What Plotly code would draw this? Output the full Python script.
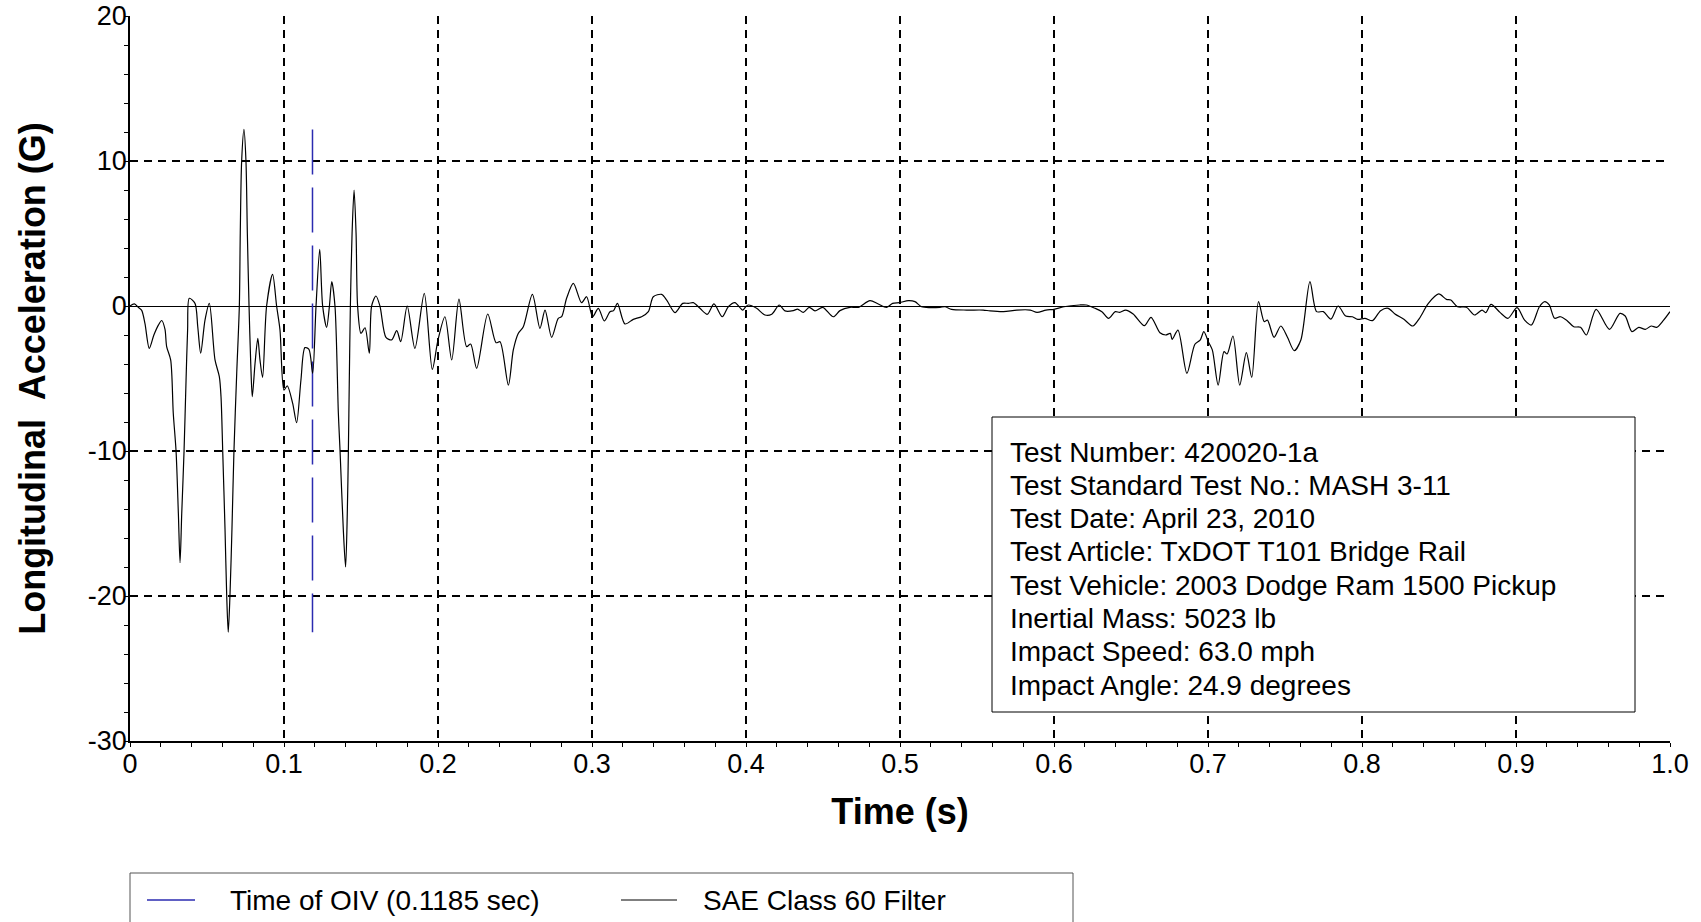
import plotly.graph_objects as go

# Longitudinal acceleration trace, SAE Class 60 filtered (time in s, acceleration in G)
time_s = [
    0.0, 0.0028, 0.0055, 0.0076, 0.0097, 0.0125, 0.0155, 0.0185, 0.0206, 0.0227,
    0.0238, 0.0264, 0.0281, 0.0299, 0.0314, 0.0325, 0.0336, 0.0351, 0.0364, 0.0374,
    0.0385, 0.0422, 0.0440, 0.0459, 0.0487, 0.0515, 0.0552, 0.0580, 0.0591, 0.0602,
    0.0617, 0.0628, 0.0638, 0.0649, 0.0662, 0.0675, 0.0693, 0.0710, 0.0716, 0.0725,
    0.0740, 0.0753, 0.0762, 0.0773, 0.0784, 0.0794, 0.0812, 0.0830, 0.0844, 0.0861,
    0.0887, 0.0926, 0.0952, 0.0974, 0.1000, 0.1021, 0.1056, 0.1082, 0.1110, 0.1136,
    0.1162, 0.1186, 0.1208, 0.1232, 0.1251, 0.1277, 0.1295, 0.1310, 0.1331, 0.1353,
    0.1364, 0.1385, 0.1400, 0.1411, 0.1418, 0.1424, 0.1431, 0.1442, 0.1455, 0.1468,
    0.1478, 0.1500, 0.1526, 0.1554, 0.1569, 0.1597, 0.1623, 0.1662, 0.1699, 0.1732,
    0.1758, 0.1800, 0.1850, 0.1911, 0.1963, 0.2000, 0.2045, 0.2089, 0.2136, 0.2186,
    0.2212, 0.2251, 0.2323, 0.2377, 0.2403, 0.2457, 0.2489, 0.2521, 0.2554, 0.2613,
    0.2662, 0.2695, 0.2738, 0.2781, 0.2803, 0.2835, 0.2879, 0.2932, 0.2965, 0.3004,
    0.3041, 0.3080, 0.3117, 0.3140, 0.3165, 0.3214, 0.3268, 0.3322, 0.3366, 0.3398,
    0.3452, 0.3485, 0.3539, 0.3589, 0.3626, 0.3658, 0.3701, 0.3749, 0.3792, 0.3846,
    0.3885, 0.3928, 0.3978, 0.3998, 0.4015, 0.4069, 0.4123, 0.4167, 0.4216, 0.4253,
    0.4307, 0.4335, 0.4372, 0.4411, 0.4448, 0.4498, 0.4567, 0.4610, 0.4675, 0.4729,
    0.4805, 0.4859, 0.4913, 0.4952, 0.4998, 0.5054, 0.5097, 0.5140, 0.5195, 0.5260,
    0.5292, 0.5335, 0.5433, 0.5540, 0.5585, 0.5672, 0.5759, 0.5846, 0.5890, 0.5948,
    0.6000, 0.6064, 0.6166, 0.6209, 0.6267, 0.6311, 0.6354, 0.6398, 0.6427, 0.6465,
    0.6514, 0.6587, 0.6630, 0.6688, 0.6726, 0.6755, 0.6767, 0.6805, 0.6863, 0.6915,
    0.6950, 0.6973, 0.7002, 0.7028, 0.7066, 0.7104, 0.7124, 0.7162, 0.7206, 0.7249,
    0.7284, 0.7328, 0.7365, 0.7386, 0.7429, 0.7473, 0.7516, 0.7560, 0.7603, 0.7662,
    0.7705, 0.7749, 0.7798, 0.7845, 0.7894, 0.7938, 0.7972, 0.8019, 0.8068, 0.8121,
    0.8170, 0.8214, 0.8272, 0.8330, 0.8373, 0.8431, 0.8498, 0.8548, 0.8577, 0.8620,
    0.8678, 0.8731, 0.8780, 0.8803, 0.8838, 0.8896, 0.8948, 0.9007, 0.9056, 0.9100,
    0.9152, 0.9187, 0.9216, 0.9251, 0.9288, 0.9332, 0.9375, 0.9419, 0.9457, 0.9520,
    0.9607, 0.9675, 0.9709, 0.9753, 0.9797, 0.9840, 0.9878, 0.9913, 0.9956, 1.0000,
]
accel_g = [
    0.0, 0.14, -0.1, -0.3, -1.2, -2.92, -2.0, -1.3, -1.0, -1.6,
    -2.8, -3.72, -7.4, -10.0, -14.3, -17.7, -14.3, -10.0, -5.1, -1.66,
    0.53, 0.18, -1.43, -3.26, -0.97, 0.18, -3.72, -4.87, -6.25, -10.0,
    -15.4, -20.0, -22.5, -20.0, -15.4, -10.0, -4.64, 0.0, 5.0, 10.0,
    12.18, 10.0, 5.0, 0.0, -3.95, -6.25, -3.95, -2.23, -3.72, -4.92,
    0.0, 2.18, 0.0, -1.66, -5.8, -5.5, -6.7, -8.05, -5.1, -2.87,
    -2.99, -4.64, 0.0, 3.9, 0.0, -1.47, 0.0, 1.68, 0.0, -7.4,
    -10.0, -15.4, -18.0, -14.3, -10.0, -5.1, 0.0, 5.0, 8.0, 5.0,
    0.0, -1.89, -1.5, -3.26, 0.0, 0.69, 0.0, -2.16, -2.34, -1.7,
    -2.46, 0.0, -2.92, 0.87, -4.37, -2.34, -0.74, -3.72, 0.48, -2.8,
    -2.62, -4.3, -0.55, -2.53, -2.46, -5.45, -3.03, -1.89, -1.43, 0.8,
    -1.54, -0.28, -2.16, -0.85, -0.74, 0.53, 1.56, 0.23, 0.64, -0.74,
    -0.16, -1.03, -0.39, -0.32, 0.18, -1.24, -0.92, -0.74, -0.39, 0.64,
    0.8, 0.41, -0.46, 0.18, 0.18, 0.23, -0.16, -0.57, 0.14, -0.74,
    -0.05, 0.23, -0.28, -0.05, 0.07, -0.16, -0.62, -0.57, 0.07, -0.34,
    -0.32, -0.21, -0.44, -0.09, -0.34, -0.09, -0.74, -0.32, -0.09, -0.09,
    0.37, 0.14, -0.09, 0.18, 0.23, 0.37, 0.3, -0.05, -0.11, -0.09,
    -0.05, -0.23, -0.28, -0.28, -0.34, -0.39, -0.28, -0.28, -0.44, -0.28,
    -0.23, -0.05, 0.07, 0.07, -0.16, -0.39, -0.85, -0.39, -0.44, -0.28,
    -0.55, -1.36, -0.78, -1.84, -2.0, -1.89, -2.3, -1.66, -4.64, -2.64,
    -2.34, -1.77, -2.46, -3.03, -5.45, -3.15, -3.31, -2.07, -5.45, -3.22,
    -4.92, 0.3, -1.08, -0.97, -2.16, -1.38, -2.16, -3.08, -2.34, 1.68,
    -0.39, -0.39, -0.9, 0.0, -0.69, -0.74, -0.92, -0.85, -1.01, -0.32,
    -0.16, -0.55, -0.92, -1.38, -0.85, 0.18, 0.83, 0.46, 0.41, -0.05,
    -0.09, -0.62, -0.28, -0.46, 0.11, -0.44, -0.85, -0.11, -0.97, -1.31,
    -0.05, 0.3, 0.07, -0.85, -0.74, -1.01, -1.43, -1.47, -2.0, -0.23,
    -1.61, -0.51, -0.69, -1.77, -1.47, -1.61, -1.38, -1.47, -1.01, -0.39,
]

# Occupant impact velocity time
oiv_time_s = 0.1185

series_names = ["Time of OIV (0.1185 sec)", "SAE Class 60 Filter"]

x_tick_vals = [0, 0.1, 0.2, 0.3, 0.4, 0.5, 0.6, 0.7, 0.8, 0.9, 1.0]
x_tick_text = ["0", "0.1", "0.2", "0.3", "0.4", "0.5", "0.6", "0.7", "0.8", "0.9", "1.0"]
y_tick_vals = [-30, -20, -10, 0, 10, 20]
y_tick_text = ["-30", "-20", "-10", "0", "10", "20"]

info_lines = [
    "Test Number: 420020-1a",
    "Test Standard Test No.: MASH 3-11",
    "Test Date: April 23, 2010",
    "Test Article: TxDOT T101 Bridge Rail",
    "Test Vehicle: 2003 Dodge Ram 1500 Pickup",
    "Inertial Mass: 5023 lb",
    "Impact Speed: 63.0 mph",
    "Impact Angle: 24.9 degrees",
]

FONT = "Liberation Sans, Arial, sans-serif"
BLUE = "#2b2bb0"
TEXT_SIZE = 28

W, H = 1701, 922
M_L, M_R, M_T, M_B = 130, 31, 16, 181
plot_w = W - M_L - M_R
plot_h = H - M_T - M_B


def px_to_paper_x(px):
    return (px - M_L) / plot_w


def px_to_paper_y(py):
    return (H - M_B - py) / plot_h


fig = go.Figure()

# OIV marker spans the full excursion of the filtered signal
fig.add_trace(go.Scatter(
    x=[oiv_time_s, oiv_time_s],
    y=[max(accel_g), min(accel_g)],
    mode="lines",
    name=series_names[0],
    line=dict(color=BLUE, width=1.5, dash="45px,13px"),
    hoverinfo="skip",
    showlegend=False,
))

fig.add_trace(go.Scatter(
    x=time_s,
    y=accel_g,
    mode="lines",
    name=series_names[1],
    line=dict(color="black", width=1.2, shape="spline", smoothing=0.8),
    showlegend=False,
))

# Test information box
box_left, box_right, box_top, box_bottom = 992, 1635, 417, 712
fig.add_shape(
    type="rect", xref="paper", yref="paper",
    x0=px_to_paper_x(box_left), x1=px_to_paper_x(box_right),
    y0=px_to_paper_y(box_bottom), y1=px_to_paper_y(box_top),
    line=dict(color="black", width=1), fillcolor="white", layer="above",
)
first_line_y, line_step = 452.0, 33.3
for i, txt in enumerate(info_lines):
    fig.add_annotation(
        xref="paper", yref="paper",
        x=px_to_paper_x(1008), y=px_to_paper_y(first_line_y + i * line_step),
        xanchor="left", yanchor="middle",
        text=txt, showarrow=False,
        font=dict(family=FONT, size=TEXT_SIZE, color="black"),
    )

# Key below the plot: framed row with a line sample and label per series
key_left, key_right, key_top, key_bottom = 130, 1073, 873, 940
key_row_y = 900
fig.add_shape(
    type="rect", xref="paper", yref="paper",
    x0=px_to_paper_x(key_left), x1=px_to_paper_x(key_right),
    y0=px_to_paper_y(key_bottom), y1=px_to_paper_y(key_top),
    line=dict(color="#555555", width=1), fillcolor="white",
)
key_items = [
    (series_names[0], BLUE, 1.5, 147, 195, 228),
    (series_names[1], "black", 1.0, 621, 677, 701),
]
for name, color, width, lx0, lx1, tx in key_items:
    fig.add_shape(
        type="line", xref="paper", yref="paper",
        x0=px_to_paper_x(lx0), x1=px_to_paper_x(lx1),
        y0=px_to_paper_y(key_row_y), y1=px_to_paper_y(key_row_y),
        line=dict(color=color, width=width),
    )
    fig.add_annotation(
        xref="paper", yref="paper",
        x=px_to_paper_x(tx), y=px_to_paper_y(key_row_y),
        xanchor="left", yanchor="middle",
        text=name, showarrow=False,
        font=dict(family=FONT, size=TEXT_SIZE, color="black"),
    )

axis_common = dict(
    automargin=False,
    showline=True, linecolor="black", linewidth=1.5,
    showgrid=True, gridcolor="black", gridwidth=1.5, griddash="8px,6px",
    tickcolor="black", tickwidth=1,
    tickfont=dict(family=FONT, size=27, color="black"),
)

fig.update_xaxes(
    range=[0, 1], tickmode="array", tickvals=x_tick_vals, ticktext=x_tick_text,
    zeroline=False, ticks="outside", ticklen=4, ticklabelstandoff=-6,
    minor=dict(dtick=0.02, ticks="outside", ticklen=4, tickcolor="black", showgrid=False),
    title=dict(text="<b>Time (s)</b>", font=dict(family=FONT, size=36, color="black"), standoff=21),
    **axis_common,
)
fig.update_yaxes(
    range=[-30, 20], tickmode="array", tickvals=y_tick_vals, ticktext=y_tick_text,
    zeroline=True, zerolinecolor="black", zerolinewidth=1.2,
    ticks="outside", ticklen=4, ticklabelstandoff=-8,
    minor=dict(dtick=2, ticks="outside", ticklen=4, tickcolor="black", showgrid=False),
    title=dict(text="<b>Longitudinal  Acceleration (G)</b>", font=dict(family=FONT, size=36, color="black"), standoff=31),
    **axis_common,
)

fig.update_layout(
    width=W, height=H,
    margin=dict(l=M_L, r=M_R, t=M_T, b=M_B, autoexpand=False),
    paper_bgcolor="white", plot_bgcolor="white",
    showlegend=False,
)

fig.write_html("out.html", config={"displayModeBar": False})
